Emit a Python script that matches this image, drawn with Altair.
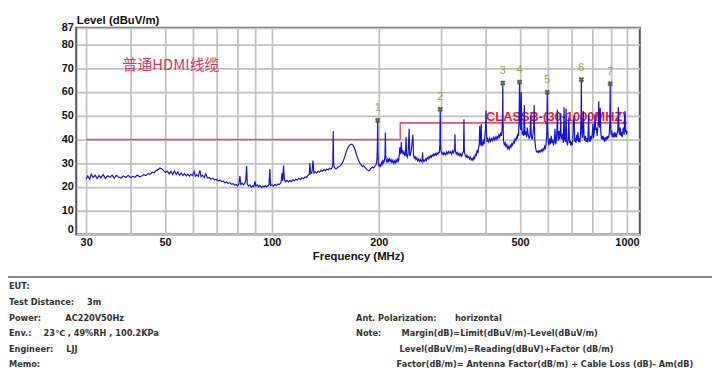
import altair as alt
import pandas as pd

# ---------------- data ----------------
band_30_60 = [
    (30.0, 23.4), (30.3, 24.6), (30.7, 23.2), (31.0, 25.4), (31.4, 24.0), (31.8, 25.0),
    (32.2, 23.5), (32.6, 24.8), (33.0, 23.9), (33.5, 25.2), (34.0, 23.6), (34.5, 24.7),
    (35.0, 24.1), (35.5, 25.0), (36.0, 23.7), (36.5, 24.9), (37.0, 24.2), (37.6, 23.8),
    (38.2, 24.6), (38.8, 24.0), (39.4, 24.9), (40.0, 23.9), (40.6, 24.5), (41.2, 24.1),
    (41.8, 25.0), (42.4, 24.3), (43.0, 24.6), (43.6, 25.2), (44.2, 24.8), (44.8, 25.6),
    (45.4, 25.3), (46.0, 26.2), (46.6, 26.0), (47.2, 26.9), (47.8, 27.3), (48.4, 28.0),
    (49.0, 27.6), (49.6, 26.8), (50.2, 26.1), (50.8, 26.7), (51.4, 25.5), (52.0, 26.6),
    (52.6, 25.3), (53.2, 26.8), (53.8, 25.2), (54.4, 26.3), (55.0, 24.9), (55.6, 25.9),
    (56.2, 24.8), (56.8, 25.6), (57.4, 24.7), (58.0, 25.4), (58.6, 24.6), (59.2, 25.3),
    (59.8, 24.8),
]
band_60_100 = [
    (60.4, 26.6), (60.9, 24.5), (61.5, 25.2), (62.1, 24.4), (62.7, 27.0), (63.2, 24.3),
    (63.8, 25.0), (64.5, 24.0), (65.2, 25.6), (65.8, 23.8), (66.6, 24.0), (67.4, 23.3),
    (68.2, 23.7), (69.0, 23.0), (69.8, 23.2), (70.6, 22.6), (71.4, 22.9), (72.2, 22.3),
    (73.0, 22.5), (73.8, 21.8), (74.6, 22.1), (75.4, 21.5), (76.2, 21.8), (77.0, 21.1),
    (77.8, 21.4), (78.6, 20.8), (79.4, 21.0), (80.2, 20.5), (80.8, 21.3), (81.3, 24.6),
    (81.8, 21.0), (82.5, 21.6), (83.2, 20.9), (83.9, 21.5), (84.5, 23.0), (84.9, 28.8),
    (85.3, 21.2), (86.0, 20.4), (86.8, 20.9), (87.5, 19.9), (88.3, 20.5), (89.0, 20.2),
    (89.6, 22.4), (90.2, 20.4), (91.0, 20.9), (91.8, 20.1), (92.6, 20.7), (93.4, 19.9),
    (94.2, 20.3), (95.0, 20.0), (95.8, 20.6), (96.6, 20.0), (97.4, 20.5), (98.2, 20.8),
    (98.7, 27.6), (99.2, 20.6), (100.0, 20.9),
]
band_100_200 = [
    (101.0, 20.4), (102.0, 21.0), (103.0, 20.6), (104.0, 21.3), (105.0, 21.0), (106.2, 22.0),
    (106.8, 25.8), (107.3, 22.5), (107.9, 29.0), (108.5, 23.0), (109.3, 22.2), (110.3, 22.8),
    (111.3, 22.1), (112.4, 22.7), (113.5, 22.3), (114.6, 23.0), (115.7, 22.6), (116.8, 23.3),
    (118.0, 22.9), (119.2, 23.6), (120.4, 23.2), (121.6, 23.9), (122.8, 23.5), (124.0, 24.2),
    (125.2, 24.0), (126.4, 24.8), (127.5, 25.4), (128.0, 30.0), (128.6, 25.6), (129.7, 26.0),
    (130.6, 31.1), (131.4, 25.8), (132.6, 26.4), (133.8, 25.9), (135.0, 26.7), (136.3, 26.2),
    (137.6, 27.0), (138.9, 26.6), (140.2, 27.3), (141.5, 26.9), (142.8, 27.6), (144.1, 27.2),
    (145.4, 27.9), (146.7, 27.5), (147.9, 28.3), (148.5, 30.0), (148.9, 43.6), (149.3, 29.5),
    (150.0, 28.2), (151.5, 27.6), (153.0, 28.1), (154.5, 28.5), (156.0, 29.0), (157.5, 29.8),
    (159.0, 31.0), (160.5, 32.8), (162.0, 34.8), (163.5, 36.3), (165.0, 37.3), (166.5, 37.9),
    (168.0, 38.0), (169.5, 37.5), (171.0, 36.2), (172.5, 34.4), (174.0, 32.6), (175.5, 31.2),
    (177.0, 30.0), (178.5, 29.3), (180.0, 28.6), (181.5, 28.9), (183.0, 28.2), (184.5, 27.6),
    (186.0, 27.1), (187.5, 26.8), (189.0, 27.3), (190.5, 27.9), (192.0, 28.4), (193.5, 28.0),
    (195.0, 28.8), (196.5, 29.3), (197.7, 31.5), (198.2, 36.0), (198.6, 48.1), (199.0, 35.0),
    (199.5, 29.5), (200.5, 28.7),
]
band_200_300 = [
    (201.5, 29.4), (202.5, 28.8), (203.5, 30.2), (204.5, 29.5), (205.5, 31.4), (206.5, 30.2),
    (207.5, 31.0), (208.3, 33.0), (208.8, 42.9), (209.3, 32.6), (210.0, 31.3), (211.0, 30.4),
    (212.0, 31.6), (213.0, 30.5), (214.2, 32.2), (215.4, 30.8), (216.6, 31.5), (217.8, 30.3),
    (219.0, 31.2), (220.2, 30.0), (221.4, 30.9), (222.6, 30.1), (223.8, 31.4), (225.0, 30.5),
    (226.2, 31.8), (227.4, 31.0), (228.5, 33.5), (229.3, 36.7), (230.0, 33.8), (230.8, 35.0),
    (231.6, 38.9), (232.4, 34.2), (233.5, 35.5), (234.6, 33.6), (235.8, 34.6), (237.0, 33.0),
    (238.0, 34.2), (238.8, 41.0), (239.6, 33.4), (240.8, 32.6), (242.0, 34.0), (243.6, 44.5),
    (244.6, 33.0), (245.8, 33.8), (247.0, 35.5), (249.6, 42.0), (250.6, 33.2), (251.8, 32.2),
    (253.0, 32.8), (254.5, 31.6), (256.0, 32.3), (257.5, 31.0), (259.0, 31.7), (260.5, 30.8),
    (262.0, 31.6), (263.5, 30.7), (265.0, 31.4), (265.8, 34.5), (266.5, 30.6), (268.0, 31.3),
    (269.5, 30.9), (271.0, 31.8), (272.5, 31.2), (274.0, 32.3), (275.5, 31.8), (277.0, 32.7),
    (278.5, 32.2), (280.0, 33.2), (281.5, 32.6), (283.0, 33.5), (284.5, 33.0), (286.0, 33.9),
    (287.5, 33.3), (289.0, 34.1), (290.5, 33.5), (292.0, 34.3), (293.5, 33.8), (295.0, 34.6),
    (296.3, 34.6), (297.3, 38.0), (298.0, 52.7), (298.7, 37.0), (299.5, 35.2),
]
band_300_500 = [
    (300.5, 34.6), (302.0, 33.9), (303.5, 34.5), (305.0, 33.6), (307.0, 34.3), (309.0, 33.5),
    (311.0, 34.8), (313.0, 34.0), (315.0, 35.0), (317.0, 34.2), (319.0, 34.9), (321.0, 33.8),
    (323.0, 35.2), (325.0, 34.4), (327.0, 36.0), (327.8, 42.2), (328.6, 35.5), (330.5, 33.8),
    (332.5, 34.5), (334.5, 33.4), (336.5, 34.2), (338.5, 33.2), (340.5, 34.0), (342.5, 33.0),
    (344.5, 34.3), (346.5, 35.0), (347.5, 48.5), (348.5, 34.6), (350.5, 33.2), (352.5, 32.6),
    (354.5, 33.4), (356.5, 32.4), (358.5, 32.8), (360.5, 31.8), (362.5, 32.5), (364.5, 31.4),
    (366.5, 31.9), (368.5, 31.2), (370.5, 32.6), (372.5, 32.0), (374.5, 34.0), (376.5, 33.0),
    (378.5, 35.5), (380.5, 34.2), (382.5, 36.8), (384.0, 38.5), (385.0, 45.7), (386.0, 37.5),
    (387.5, 38.8), (388.8, 46.5), (390.0, 37.2), (391.5, 39.0), (393.0, 37.5), (394.5, 40.0),
    (396.0, 38.0), (397.5, 41.0), (398.5, 42.5), (400.0, 45.0), (401.0, 52.2), (402.0, 44.0),
    (403.5, 39.0), (405.5, 40.2), (408.0, 39.0), (410.5, 40.5), (413.0, 39.2), (415.5, 40.3),
    (418.0, 39.5), (420.5, 40.8), (423.0, 39.8), (425.5, 41.0), (428.0, 40.0), (430.5, 41.2),
    (433.0, 40.4), (435.5, 42.0), (438.0, 41.0), (440.5, 42.5), (443.0, 41.5), (445.0, 44.0),
    (446.2, 50.0), (447.0, 63.8), (447.8, 48.0), (449.0, 39.5), (451.5, 37.8), (454.0, 38.6),
    (456.5, 37.0), (459.0, 37.8), (461.5, 36.2), (464.0, 37.0), (466.5, 36.0), (469.0, 37.5),
    (471.5, 36.8), (474.0, 38.2), (476.5, 37.6), (479.0, 39.0), (481.5, 38.5), (484.0, 40.2),
    (486.5, 39.6), (489.0, 41.0), (491.0, 40.2), (493.0, 42.5), (495.0, 41.5), (496.5, 46.0),
    (497.5, 55.0), (498.3, 64.2), (499.2, 58.0), (500.2, 47.0),
]
band_500_1000 = [
    (502.0, 44.0), (504.0, 60.0), (505.5, 45.0), (507.5, 42.0), (510.0, 43.5), (512.0, 41.5),
    (514.0, 54.5), (516.0, 42.0), (519.0, 43.0), (522.0, 41.0), (524.0, 45.0), (527.0, 42.0),
    (530.0, 40.5), (533.0, 41.5), (535.5, 50.0), (538.0, 41.0), (541.0, 40.0), (544.0, 42.5),
    (546.0, 45.0), (548.0, 54.5), (550.0, 40.0), (553.0, 36.5), (556.0, 35.0), (559.0, 34.6),
    (562.0, 35.2), (565.0, 34.5), (568.0, 35.3), (571.0, 34.8), (574.0, 35.6), (577.0, 35.0),
    (580.0, 36.0), (583.0, 35.4), (586.0, 37.0), (589.0, 36.2), (592.0, 38.0), (594.5, 42.0),
    (596.5, 59.9), (598.0, 44.0), (600.0, 39.5), (603.0, 37.5), (606.0, 40.5), (609.0, 38.0),
    (612.0, 41.5), (615.0, 38.5), (618.0, 40.0), (621.0, 37.5), (624.0, 39.0), (627.0, 44.5),
    (630.0, 38.0), (633.0, 40.0), (635.5, 45.0), (637.0, 52.6), (638.5, 43.0), (641.0, 39.5),
    (644.0, 43.5), (647.0, 40.0), (649.5, 44.0), (651.0, 51.0), (652.5, 42.0), (656.0, 40.0),
    (659.0, 42.5), (662.0, 38.5), (665.0, 53.6), (667.5, 40.0), (671.0, 39.0), (674.0, 53.0),
    (676.5, 39.5), (680.0, 37.5), (683.0, 40.0), (686.0, 49.2), (689.0, 38.5), (692.0, 39.5),
    (695.0, 37.5), (698.0, 39.0), (701.0, 37.5), (704.0, 40.0), (707.0, 47.1), (710.0, 50.0),
    (713.0, 39.0), (716.0, 40.5), (719.0, 38.6), (722.0, 42.0), (725.0, 39.5), (728.0, 43.0),
    (731.0, 39.0), (734.0, 40.5), (737.0, 38.8), (740.0, 42.0), (742.5, 50.0), (744.0, 65.2),
    (745.5, 48.0), (748.0, 40.5), (751.0, 43.0), (754.0, 52.0), (757.0, 41.0), (760.0, 39.5),
    (764.0, 41.5), (768.0, 39.0), (772.0, 40.5), (776.0, 38.8), (780.0, 50.0), (783.0, 40.0),
    (787.0, 39.0), (791.0, 41.5), (795.0, 40.0), (799.0, 43.0), (802.0, 46.5), (805.0, 40.5),
    (809.0, 43.0), (813.0, 50.6), (816.0, 44.0), (820.0, 45.0), (824.0, 41.5), (828.0, 44.5),
    (831.0, 49.0), (833.0, 56.1), (835.0, 47.0), (838.0, 45.0), (841.0, 53.4), (844.0, 43.0),
    (848.0, 40.2), (852.0, 41.5), (856.0, 39.8), (860.0, 40.8), (864.0, 39.5), (868.0, 40.5),
    (872.0, 39.8), (876.0, 41.2), (880.0, 40.0), (884.0, 41.5), (888.0, 40.5), (892.0, 43.0),
    (895.0, 48.0), (897.0, 63.5), (899.0, 47.0), (902.0, 42.0), (906.0, 43.6), (910.0, 41.0),
    (914.0, 42.5), (918.0, 41.0), (922.0, 43.0), (926.0, 41.5), (930.0, 42.3), (934.0, 41.0),
    (938.0, 42.5), (942.0, 44.0), (946.0, 53.6), (950.0, 43.0), (954.0, 42.0), (958.0, 45.0),
    (962.0, 41.5), (966.0, 43.0), (970.0, 41.0), (974.0, 44.0), (978.0, 45.0), (982.0, 42.0),
    (985.0, 49.9), (988.0, 52.0), (991.0, 43.0), (994.0, 44.0), (997.0, 42.0), (1000.0, 43.6),
]

limit_freq = [30, 230, 230, 1000]
limit_level = [40, 40, 47, 47]
limit_name = "CLASSB-(30-1000MHZ)"

marker_freq = [198.6, 298.0, 447.0, 498.3, 596.5, 744.0, 897.0]
marker_level = [48.1, 52.7, 63.8, 64.2, 59.9, 65.2, 63.5]
marker_label = ["1", "2", "3", "4", "5", "6", "7"]

note_text = "普通HDMI线缆"

x_grid_values = [30, 40, 50, 60, 70, 80, 90, 100, 200, 300, 400, 500, 600, 700, 800, 900, 1000]
x_label_values = [30, 50, 100, 200, 500, 1000]
y_values = [0, 10, 20, 30, 40, 50, 60, 70, 80, 87]

info_left_keys = ["EUT:", "Test Distance:", "Power:", "Env.:", "Engineer:", "Memo:"]
info_left_vals = ["", "3m", "AC220V50Hz", "23℃ ,  49%RH , 100.2KPa", "LJJ", ""]
info_right_keys = ["", "", "Ant. Polarization:", "Note:", "", ""]
info_right_vals = ["", "", "horizontal",
                   "Margin(dB)=Limit(dBuV/m)-Level(dBuV/m)",
                   "Level(dBuV/m)=Reading(dBuV)+Factor (dB/m)",
                   "Factor(dB/m)= Antenna Factor(dB/m) + Cable Loss (dB)- Am(dB)"]

# ---------------- frames ----------------
trace_df = pd.DataFrame(band_30_60 + band_60_100 + band_100_200 + band_200_300
                        + band_300_500 + band_500_1000, columns=["freq", "level"])
limit_df = pd.DataFrame({"freq": limit_freq, "level": limit_level,
                         "seq": list(range(len(limit_freq)))})
marker_df = pd.DataFrame({"freq": marker_freq, "level": marker_level, "label": marker_label})
note_df = pd.DataFrame({"freq": [38.0], "level": [71.2], "text": [note_text]})
limit_text_df = pd.DataFrame({"freq": [401.0], "level": [49.6], "text": [limit_name]})

# ---------------- layout constants ----------------
PLOT_W, PLOT_H = 570, 209
ORIGIN_X, ORIGIN_Y = 77, 26  # page coords of the plot origin
FONT = "Liberation Sans"
INFO_FONT = "DejaVu Sans"

xscale = alt.Scale(type="log", domain=[28.13, 1087], nice=False)
yscale = alt.Scale(domain=[0, 87], nice=False, zero=False)

label_set = ",".join(str(v) for v in x_label_values)
x_axis = alt.Axis(
    values=x_grid_values,
    labelExpr=f"indexof([{label_set}], datum.value) >= 0 ? '' + datum.value : ''",
    title="Frequency (MHz)",
    grid=True, gridColor="#c2c2c2", gridWidth=1.8,
    ticks=False, domain=False,
    labelFont=FONT, labelFontWeight="bold", labelFontSize=11, labelColor="#111",
    labelPadding=2, labelOverlap=False, labelFlush=False, labelBound=False,
    titleFont=FONT, titleFontWeight="bold", titleFontSize=11.5, titleColor="#111",
    titlePadding=3,
)
y_axis = alt.Axis(
    values=y_values,
    title="Level (dBuV/m)",
    grid=True, gridColor="#c2c2c2", gridWidth=1.8,
    ticks=False, domain=False,
    labelFont=FONT, labelFontWeight="bold", labelFontSize=11, labelColor="#111",
    labelPadding=3, labelOverlap=False, labelFlush=False, labelBound=False,
    labelBaseline={"condition": {"test": "datum.value === 0", "value": "bottom"},
                   "value": "middle"},
    titleFont=FONT, titleFontWeight="bold", titleFontSize=11.5, titleColor="#111",
    titleAngle=0, titleAlign="left", titleBaseline="alphabetic",
    titleX=0, titleY=-4,
)

X = alt.X("freq:Q", scale=xscale, axis=x_axis)
Y = alt.Y("level:Q", scale=yscale, axis=y_axis)

limit_line = alt.Chart(limit_df).mark_line(color="#e0566a", strokeWidth=1.6).encode(
    x=X, y=Y, order="seq:Q")

limit_label = alt.Chart(limit_text_df).mark_text(
    align="left", baseline="middle", font=FONT, fontWeight="bold",
    fontSize=13, color="#e3232f").encode(x=X, y=Y, text="text:N")

note = alt.Chart(note_df).mark_text(
    align="left", baseline="middle", font="Noto Sans CJK SC",
    fontSize=15, color="#d23b5c").encode(x=X, y=Y, text="text:N")

trace = alt.Chart(trace_df).mark_line(color="#1414d2", strokeWidth=1.2).encode(x=X, y=Y)

markers = alt.Chart(marker_df).mark_point(
    shape="cross", angle=45, filled=True, size=32, color="#5f6650", opacity=1).encode(x=X, y=Y)

marker_labels = alt.Chart(marker_df).mark_text(
    dy=-12, font=FONT, fontSize=11, color="#a0a040").encode(x=X, y=Y, text="label:N")

one_row = alt.Data(values=[{}])


def page_text(s, px, py, size=8.3):
    return alt.Chart(one_row).mark_text(
        align="left", baseline="middle", font=INFO_FONT, fontWeight="bold",
        fontSize=size, color="#333333").encode(
        x=alt.value(px - ORIGIN_X), y=alt.value(py - ORIGIN_Y), text=alt.value(s))


separator = alt.Chart(one_row).mark_rule(color="#8a8a8a", strokeWidth=2).encode(
    x=alt.value(8 - ORIGIN_X), x2=alt.value(720 - ORIGIN_X), y=alt.value(278 - ORIGIN_Y))

row_y = [288, 304, 320, 336, 352, 367]
left_key_x = 9
left_val_x = [0, 88, 66, 44, 67, 0]
right_key_x = 360
right_val_x = [0, 0, 460, 406, 404, 401]

info_layers = [separator]
for i in range(len(row_y)):
    info_layers.append(page_text(info_left_keys[i], left_key_x, row_y[i]))
    if info_left_vals[i]:
        info_layers.append(page_text(info_left_vals[i], left_val_x[i], row_y[i]))
    if info_right_keys[i]:
        info_layers.append(page_text(info_right_keys[i], right_key_x, row_y[i]))
    if info_right_vals[i]:
        info_layers.append(page_text(info_right_vals[i], right_val_x[i], row_y[i]))

chart = alt.layer(
    limit_line, limit_label, note, trace, markers, marker_labels, *info_layers
).properties(
    width=PLOT_W, height=PLOT_H,
    autosize=alt.AutoSizeParams(type="none"),
    padding={"left": ORIGIN_X - 8, "top": ORIGIN_Y - 8,
             "right": 712 - (ORIGIN_X - 8) - PLOT_W,
             "bottom": 363 - (ORIGIN_Y - 8) - PLOT_H},
    background="white",
).configure_view(stroke="#555555", strokeWidth=2)

chart.save("out.html", embed_options={"renderer": "svg", "actions": False})
